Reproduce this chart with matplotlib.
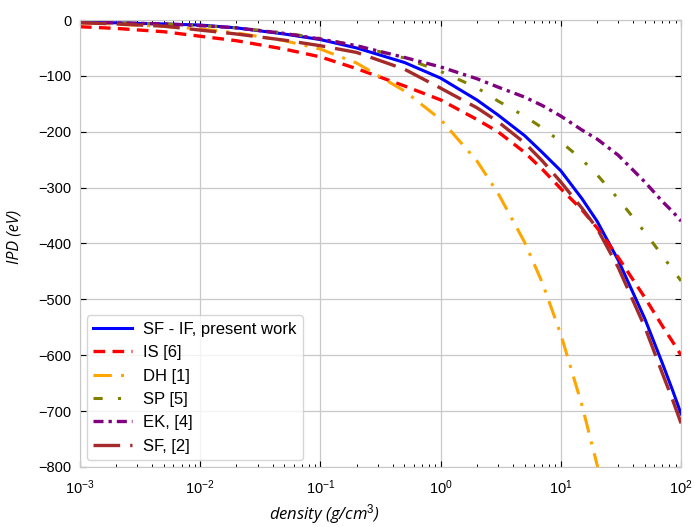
import numpy as np
import matplotlib.pyplot as plt

plt.rcParams['font.family'] = ['Liberation Sans', 'DejaVu Sans']
plt.rcParams['mathtext.fontset'] = 'custom'
plt.rcParams['mathtext.rm'] = 'Liberation Sans'
plt.rcParams['mathtext.it'] = 'Liberation Sans:italic'

# densities (g/cm^3) where the curves were read
rho = [0.001, 0.002, 0.005, 0.01, 0.02, 0.05, 0.1, 0.2, 0.5, 1, 2, 3, 5, 7,
       10, 15, 20, 30, 50, 70, 85, 100]

# IPD values (eV)
sf_if = [-4, -5, -7, -9, -14, -25, -35, -50, -76, -104, -143, -170, -207, -237,
         -270, -320, -360, -430, -535, -615, -663, -705]
is_6 = [-12, -15, -21, -29, -37, -52, -66, -87, -118, -143, -178, -200, -237, -267,
        -302, -340, -372, -425, -497, -548, -576, -600]
sp_5 = [-4, -5, -7, -10, -14, -23, -33, -46, -68, -92, -121, -145, -172, -193,
        -218, -250, -277, -320, -380, -422, -447, -467]
ek_4 = [-4, -5, -7, -10, -14, -24, -34, -46, -67, -84, -105, -120, -138, -153,
        -172, -197, -213, -242, -290, -325, -343, -360]
sf_2 = [-5, -7, -11, -18, -25, -36, -46, -58, -88, -122, -157, -182, -220, -252,
        -290, -337, -373, -443, -550, -633, -680, -722]

rho_dh = [0.001, 0.002, 0.005, 0.01, 0.02, 0.05, 0.1, 0.2, 0.5, 1, 2, 3, 5, 7,
          10, 15, 20, 21]
dh_1 = [-5, -7.5, -11.5, -16, -23, -37, -52, -77, -127, -178, -252, -310, -398, -470,
        -563, -690, -796, -815]

fig = plt.figure(figsize=(6.95, 5.27), dpi=100)
ax = fig.add_axes([0.115, 0.114, 0.865, 0.848])

ax.plot(rho, sf_if, color='blue', lw=2.2, ls='-', label='SF - IF, present work')
ax.plot(rho, is_6, color='red', lw=2.4, ls=(0, (3.5, 2.2)), label='IS [6]')
ax.plot(rho_dh, dh_1, color='orange', lw=2.2, ls=(0, (6, 3, 1, 3)), label='DH [1]')
ax.plot(rho, sp_5, color='olive', lw=2.2, ls=(0, (3, 5, 1, 5)), label='SP [5]')
ax.plot(rho, ek_4, color='purple', lw=2.4, ls=(0, (3, 1.5, 1, 1.5)), label='EK, [4]')
ax.plot(rho, sf_2, color='brown', lw=2.4, ls=(0, (8, 3)), label='SF, [2]')

ax.set_xscale('log')
ax.set_xlim(1e-3, 1e2)
ax.set_ylim(-800, 0)
ax.set_yticks(np.arange(-800, 1, 100))

ax.grid(True, which='major', color='#c8c8c8', lw=0.9)
for s in ax.spines.values():
    s.set_color('#c8c8c8')
ax.tick_params(which='both', direction='in', top=True, right=True, labelsize=10.5)
ax.tick_params(axis='x', which='major', pad=8)
ax.tick_params(axis='y', which='major', pad=6)
ax.tick_params(which='major', length=4, width=0.8)
ax.tick_params(which='minor', length=2.5, width=0.7)

ax.set_xlabel('density (g/cm$^3$)', style='italic', fontsize=12,
              family=['Open Sans', 'DejaVu Sans'])
ax.xaxis.set_label_coords(0.406, -0.078)
ax.set_ylabel('IPD (eV)', style='italic', fontsize=11.5,
              family=['Open Sans', 'DejaVu Sans'])
ax.yaxis.set_label_coords(-0.095, 0.515)

leg = ax.legend(loc='lower left', fontsize=12, frameon=True, fancybox=True,
                framealpha=0.8, edgecolor='#cccccc', handlelength=2.3,
                handletextpad=0.7, borderpad=0.4, labelspacing=0.5,
                borderaxespad=0.4)

fig.savefig('out.png', dpi=100)
